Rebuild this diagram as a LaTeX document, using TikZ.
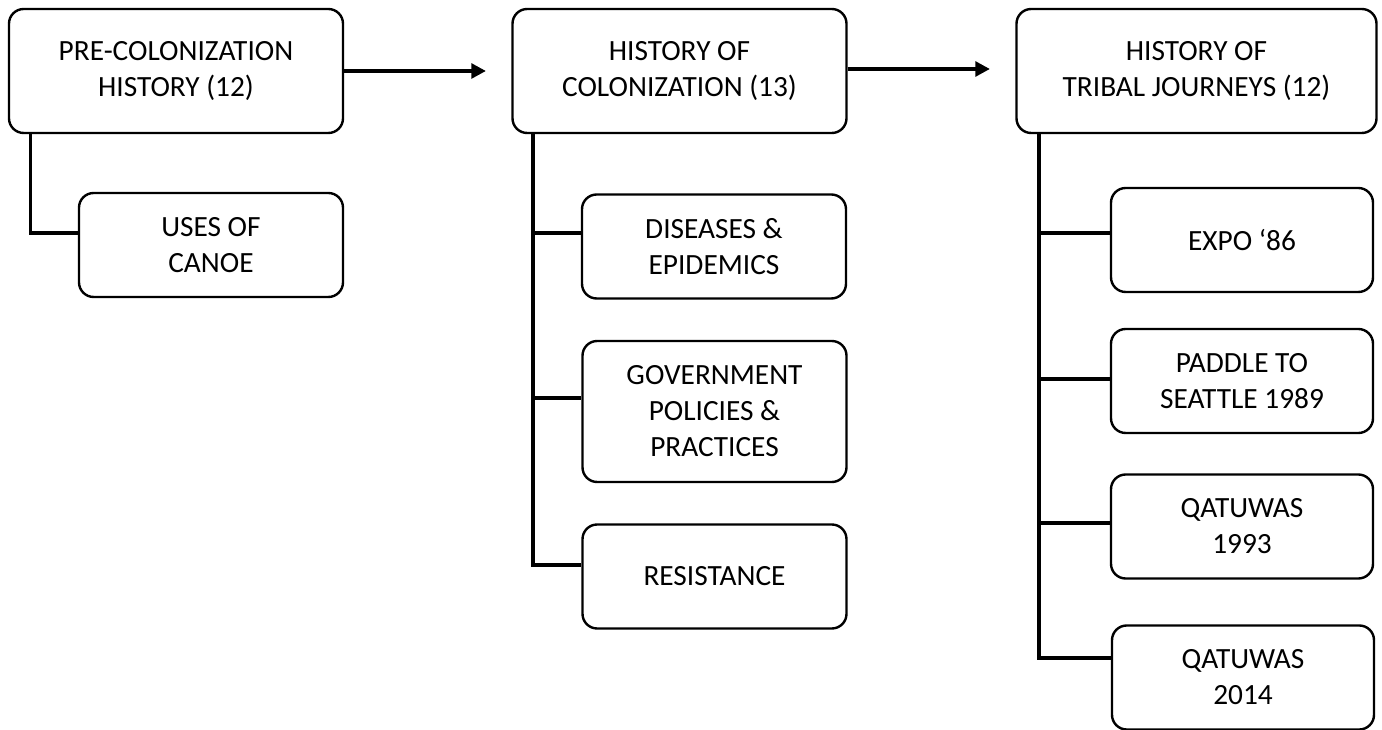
\documentclass[tikz,border=0pt]{standalone}
\usepackage{fontspec}
\setmainfont{Carlito}
\usetikzlibrary{arrows.meta}

\tikzset{
    topbox/.style={draw, line width=1.8pt, rounded corners=11pt, align=center,
        minimum width=250.5pt, minimum height=93pt, inner sep=2pt},
    subbox/.style={draw, line width=1.8pt, rounded corners=11pt, align=center,
        minimum width=198pt, minimum height=78pt, inner sep=2pt},
    link/.style={line width=2.8pt},
    arrow/.style={line width=2.8pt, -{Triangle[length=11pt, width=11pt]}}
}

\begin{document}
\begin{tikzpicture}[x=0.75pt, y=-0.75pt, font=\fontsize{22}{27}\selectfont]
    % --- page frame (pixel units) ---
    \useasboundingbox (0,0) rectangle (1382,730);

    % --- column 1: pre-colonization ---
    \node[topbox] (pre) at (176,71) {PRE-COLONIZATION\\HISTORY (12)};
    \node[subbox] (uses) at (211,245) {USES OF\\CANOE};

    % --- column 2: colonization ---
    \node[topbox] (col) at (679.5,71) {HISTORY OF\\COLONIZATION (13)};
    \node[subbox] (dis) at (714,246.5) {DISEASES \&\\EPIDEMICS};
    \node[subbox, minimum height=105.75pt] (gov) at (714.5,411.5) {GOVERNMENT\\POLICIES \&\\PRACTICES};
    \node[subbox] (res) at (714.5,576.5) {RESISTANCE};

    % --- column 3: tribal journeys ---
    \node[topbox, minimum width=270pt] (tj) at (1196.5,71) {HISTORY OF\\TRIBAL JOURNEYS (12)};
    \node[subbox, minimum width=196.5pt] (expo) at (1242,240) {EXPO ‘86};
    \node[subbox, minimum width=196.5pt] (pad) at (1242,381) {PADDLE TO\\SEATTLE 1989};
    \node[subbox, minimum width=196.5pt] (q93) at (1242,526.5) {QATUWAS\\1993};
    \node[subbox, minimum width=196.5pt] (q14) at (1243,677.5) {QATUWAS\\2014};

    % --- arrows between the main boxes ---
    \draw[arrow] (pre.east) -- ([xshift=-19pt]col.west);
    \draw[arrow] ([yshift=1.5pt]col.east) -- ([xshift=-19pt, yshift=1.5pt]tj.west);

    % --- branches ---
    \draw[link] ([xshift=17pt]pre.south west) |- ([yshift=9pt]uses.west);

    \draw[link] ([xshift=16pt]col.south west) |- ([yshift=10pt]dis.west);
    \draw[link] ([xshift=16pt]col.south west) |- ([yshift=10pt]gov.west);
    \draw[link] ([xshift=16pt]col.south west) |- ([yshift=8.5pt]res.west);

    \draw[link] ([xshift=18pt]tj.south west) |- ([yshift=5pt]expo.west);
    \draw[link] ([xshift=18pt]tj.south west) |- ([yshift=1.5pt]pad.west);
    \draw[link] ([xshift=18pt]tj.south west) |- ([yshift=2.5pt]q93.west);
    \draw[link] ([xshift=18pt]tj.south west) |- ([yshift=14.5pt]q14.west);
\end{tikzpicture}
\end{document}
